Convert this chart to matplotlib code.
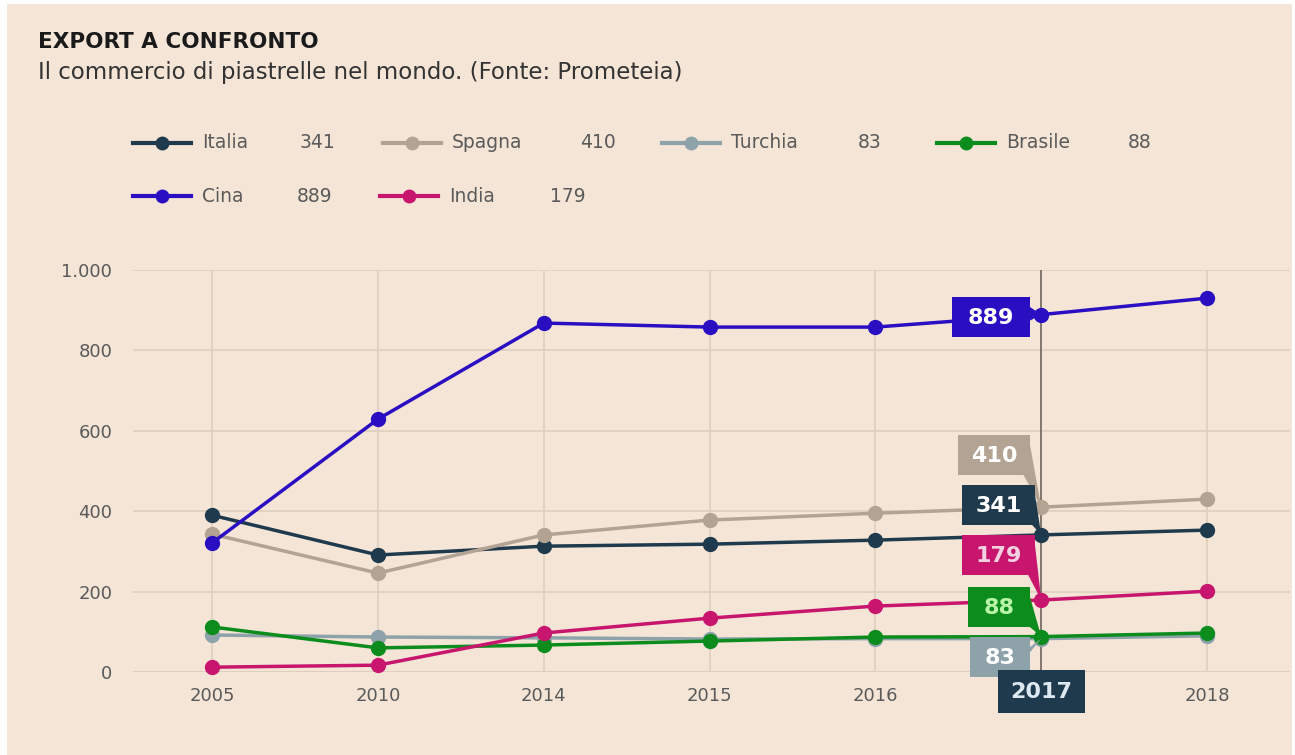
import matplotlib
matplotlib.use("Agg")
import matplotlib.pyplot as plt
from matplotlib.lines import Line2D
from matplotlib.patches import Rectangle, Polygon
from matplotlib.ticker import FuncFormatter

plt.rcParams['font.family'] = ['DejaVu Sans']

years = ["2005", "2010", "2014", "2015", "2016", "2017", "2018"]
countries = ["Italia", "Spagna", "Turchia", "Brasile", "Cina", "India"]
italia = [390, 291, 313, 318, 328, 341, 353]
spagna = [343, 246, 341, 378, 395, 410, 430]
turchia = [92, 87, 85, 82, 83, 83, 90]
brasile = [112, 60, 67, 77, 87, 88, 97]
cina = [321, 629, 868, 858, 858, 889, 930]
india = [12, 17, 97, 134, 164, 179, 201]
colors = ["#1f3a4d", "#b3a393", "#8ea2aa", "#0b8c1c", "#2a0fc2", "#c8166f"]
yticks = [0, 200, 400, 600, 800, 1000]
highlight_year = "2017"

series = [italia, spagna, turchia, brasile, cina, india]
BG = "#f4e5d7"

W, H = 1295, 755
fig = plt.figure(figsize=(W / 100, H / 100), dpi=100)
fig.patch.set_facecolor("white")
fig.patches.append(Rectangle((7 / W, 0), (1292 - 7) / W, (H - 4) / H,
                             transform=fig.transFigure, facecolor=BG,
                             edgecolor="none", zorder=-10))

def fx(px):
    return px / W

def fy(py):
    return 1 - py / H

ax = fig.add_axes([fx(133), fy(672), fx(1290) - fx(133), fy(270) - fy(672)])
ax.set_facecolor(BG)
ax.patch.set_alpha(0)
x = list(range(len(years)))
ax.set_xlim(-0.477, 6.5)
ax.set_ylim(0, 1000)
for s in ax.spines.values():
    s.set_visible(False)
ax.set_yticks(yticks)
ax.yaxis.set_major_formatter(FuncFormatter(lambda v, p: f"{int(v):,}".replace(",", ".")))
ax.set_xticks(x)
ax.set_xticklabels(years)
ax.tick_params(length=0, labelsize=13, colors="#5a5a5a", pad=11)
ax.tick_params(axis='y', pad=15)
hi = years.index(highlight_year)
ax.get_xticklabels()[hi].set_visible(False)
ax.grid(True, color="#e0d0c0", linewidth=1.3)
ax.axhline(0, color="#d2c2b2", linewidth=2, zorder=1)

ax.axvline(hi, color="#7a7068", linewidth=1.3, zorder=2)

order = [2, 3, 5, 0, 1, 4]
for i in order:
    ax.plot(x, series[i], color=colors[i], linewidth=2.5, marker="o",
            markersize=10, zorder=3 + i, clip_on=False)

# tooltip boxes at highlighted year
box_y = {4: 317, 1: 455, 0: 505, 5: 555, 3: 607, 2: 657}
box_w = {4: 78, 1: 72, 0: 73, 5: 73, 3: 62, 2: 60}
box_right = {4: 1030, 1: 1030, 0: 1035, 5: 1035, 3: 1030, 2: 1030}
tc = {4: "white", 1: "white", 0: "white", 5: "#f5d0e0", 3: "#b8f5a8", 2: "white"}
ax_x0, ax_x1 = ax.get_xlim()
pt_px_x = 133 + (hi - ax_x0) / (ax_x1 - ax_x0) * (1290 - 133)
for i in [2, 3, 5, 0, 1, 4]:
    v = series[i][hi]
    py = 672 - v * 0.402
    r = box_right[i]
    l = r - box_w[i]
    cy = box_y[i]
    fig.patches.append(Polygon([[fx(r - 12), fy(cy + 10)], [fx(r), fy(cy - 10)],
                                [fx(pt_px_x), fy(py)]], closed=True,
                               transform=fig.transFigure, facecolor=colors[i],
                               edgecolor="none", zorder=20))
    fig.patches.append(Rectangle((fx(l), fy(cy + 20)), box_w[i] / W, 40 / H,
                                 transform=fig.transFigure, facecolor=colors[i],
                                 edgecolor="none", zorder=21))
    fig.text(fx((l + r) / 2), fy(cy + 1), str(v), ha="center", va="center",
             color=tc[i], fontsize=16, fontweight="bold", zorder=22)

# highlighted year box
fig.patches.append(Rectangle((fx(998), fy(713)), 87 / W, 43 / H,
                             transform=fig.transFigure, facecolor=colors[0],
                             edgecolor="none", zorder=21))
fig.text(fx(1041), fy(692), highlight_year, ha="center", va="center",
         color="#dde8f0", fontsize=16, fontweight="bold", zorder=22)

# title
fig.text(fx(38), fy(42), "EXPORT A CONFRONTO", fontsize=15.5, fontweight="bold",
         color="#1a1a1a", va="center", ha="left")
fig.text(fx(38), fy(73), "Il commercio di piastrelle nel mondo. (Fonte: Prometeia)",
         fontsize=16.5, color="#333333", va="center", ha="left")

# legend
leg = [(0, 133, 143, 300), (1, 383, 143, 580), (2, 662, 143, 858), (3, 937, 143, 1128),
       (4, 133, 196, 297), (5, 380, 196, 550)]
for i, lx, ly, vx in leg:
    fig.add_artist(Line2D([fx(lx), fx(lx + 58)], [fy(ly), fy(ly)], color=colors[i],
                          linewidth=3, transform=fig.transFigure))
    fig.add_artist(Line2D([fx(lx + 29)], [fy(ly)], marker="o", markersize=9,
                          color=colors[i], transform=fig.transFigure))
    fig.text(fx(lx + 69), fy(ly), countries[i], fontsize=13.5, color="#5a5a5a",
             va="center", ha="left")
    fig.text(fx(vx), fy(ly), str(series[i][hi]), fontsize=13.5, color="#5a5a5a",
             va="center", ha="left")

fig.savefig("out.png", dpi=100, facecolor=fig.get_facecolor())
